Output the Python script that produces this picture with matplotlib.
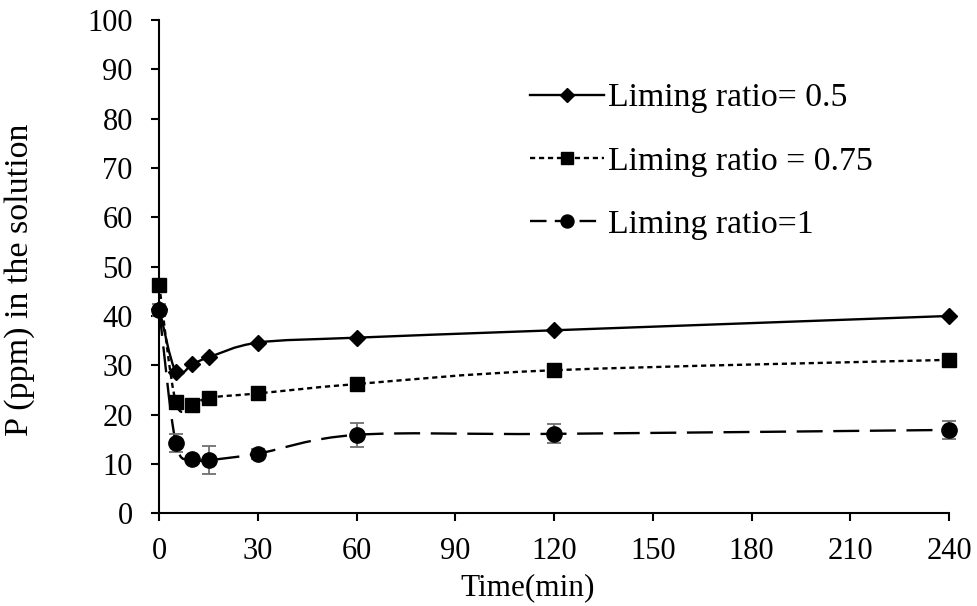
import numpy as np
import matplotlib
matplotlib.use("Agg")
import matplotlib.pyplot as plt
from matplotlib.path import Path
from matplotlib.patches import PathPatch
from matplotlib.lines import Line2D

# ---- data ----
time_min = [0, 5, 10, 15, 30, 60, 120, 240]
ratio_05 = [41.5, 28.7, 30.2, 31.6, 34.6, 35.6, 37.1, 40.0]
ratio_075 = [46.3, 22.6, 21.9, 23.4, 24.3, 26.2, 29.0, 31.1]
ratio_075_err = [0.8, 0.8, 0.6, 0.8, 1.4, 0.8, 0.6, 0.6]
ratio_1 = [41.2, 14.3, 11.0, 10.8, 12.1, 15.9, 16.1, 16.9]
ratio_1_err = [1.2, 1.8, 0.5, 2.8, 1.0, 2.5, 1.95, 1.9]
labels = ["Liming ratio= 0.5", "Liming ratio = 0.75", "Liming ratio=1"]
xticks = [0, 30, 60, 90, 120, 150, 180, 210, 240]
yticks = list(range(0, 101, 10))

plt.rcParams['font.family'] = ['Liberation Serif', 'DejaVu Serif']

fig = plt.figure(figsize=(9.77, 6.06), dpi=100)
ax = fig.add_axes([0.1630, 0.153, 0.8083, 0.814])


def smooth_path(x, y):
    """Excel-like smoothed line as cubic Bezier segments through the data points."""
    x = np.asarray(x, float)
    y = np.asarray(y, float)
    n = len(x)
    verts = [(x[0], y[0])]
    codes = [Path.MOVETO]
    for i in range(n - 1):
        p0 = np.array([x[max(i - 1, 0)], y[max(i - 1, 0)]])
        p1 = np.array([x[i], y[i]])
        p2 = np.array([x[i + 1], y[i + 1]])
        p3 = np.array([x[min(i + 2, n - 1)], y[min(i + 2, n - 1)]])
        c1 = p1 + (p2 - p0) / 6.0
        c2 = p2 - (p3 - p1) / 6.0
        verts += [tuple(c1), tuple(c2), tuple(p2)]
        codes += [Path.CURVE4] * 3
    return Path(verts, codes)


lw = 1.7
styles = [
    dict(ls='-', marker='D', ms=8),
    dict(ls=(0, (2.2, 1.6)), marker='s', ms=10),
    dict(ls=(0, (11, 4.5)), marker='o', ms=11),
]
legend_ls = ['-', (0, (2.2, 1.6)), (0, (7, 3.5))]
series = [ratio_05, ratio_075, ratio_1]
errs = [None, ratio_075_err, ratio_1_err]

for vals, err, st in zip(series, errs, styles):
    patch = PathPatch(smooth_path(time_min, vals), fill=False, edgecolor='black',
                      lw=lw, linestyle=st['ls'], transform=ax.transData,
                      clip_on=False, zorder=2)
    ax.add_patch(patch)
    ax.errorbar(time_min, vals, yerr=err, fmt=st['marker'], ms=st['ms'],
                color='black', mec='black', ecolor='#707070', elinewidth=1.3,
                capsize=5, capthick=1.3, clip_on=False, zorder=3)

ax.set_xlim(0, 240)
ax.set_ylim(0, 100)
ax.set_xticks(xticks)
ax.set_yticks(yticks)
for s in ['top', 'right']:
    ax.spines[s].set_visible(False)
for s in ['left', 'bottom']:
    ax.spines[s].set_linewidth(1.5)
ax.tick_params(axis='both', direction='out', length=6, width=1.5, labelsize=22)
ax.tick_params(axis='y', pad=13)
ax.tick_params(axis='x', pad=11)

ax.set_xlabel('Time(min)', fontsize=22.5)
ax.xaxis.set_label_coords(0.466, -0.122)
ax.set_ylabel('P (ppm) in the solution', fontsize=24.5)
ax.yaxis.set_label_coords(-0.157, 0.473)

handles = [Line2D([], [], color='black', lw=lw, linestyle=ls,
                  marker=st['marker'], ms=st['ms'] * 0.85)
           for st, ls in zip(styles, legend_ls)]
leg = ax.legend(handles, labels, loc='upper left', bbox_to_anchor=(0.452, 0.90),
                frameon=False, fontsize=24.3, handlelength=2.2, handletextpad=0.12,
                labelspacing=0.97, borderaxespad=0)

fig.savefig('out.png', dpi=100)
